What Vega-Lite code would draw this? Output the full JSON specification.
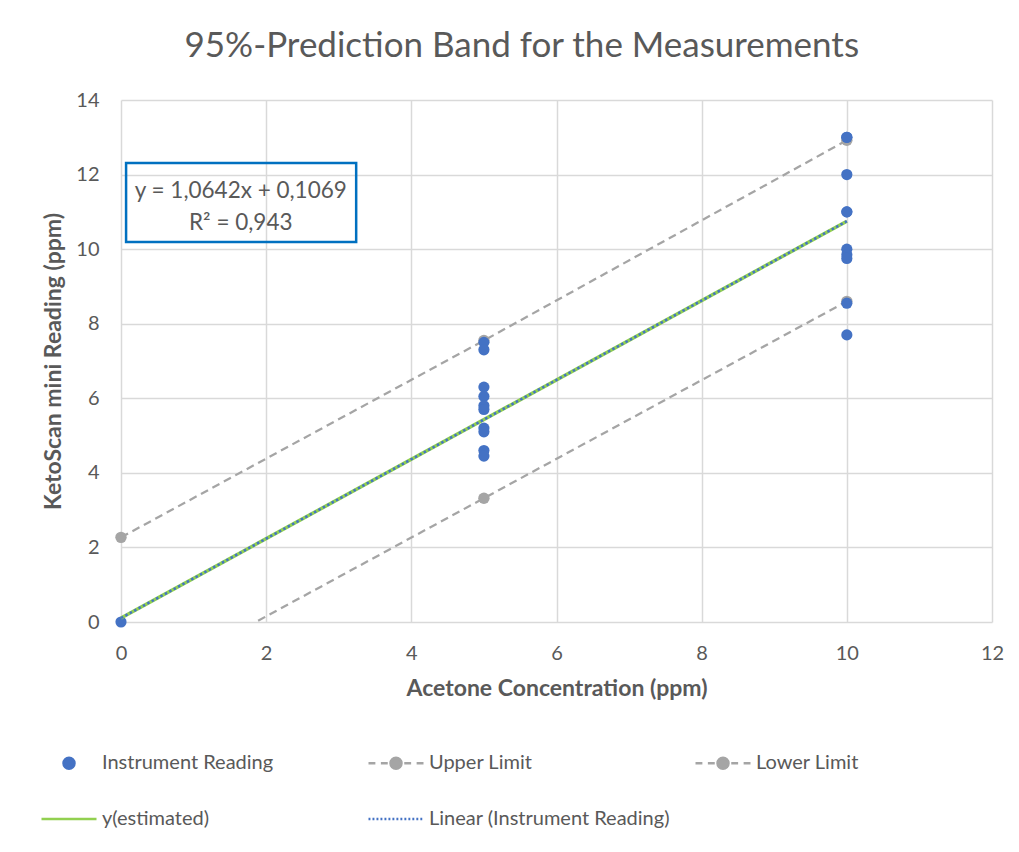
{
  "$schema": "https://vega.github.io/schema/vega-lite/v6.json",
  "width": 871,
  "height": 522,
  "autosize": {"type": "none"},
  "padding": {"left": 121, "top": 100, "right": 27, "bottom": 230},
  "background": "white",
  "title": {"text": "95%-Prediction Band for the Measurements", "font": "Lato", "fontSize": 35, "fontWeight": "normal", "color": "#595959", "anchor": "middle", "frame": "bounds", "offset": 26},
  "config": {
    "view": {"stroke": null},
    "font": "Lato",
    "axis": {"labelFont": "Lato", "labelFontSize": 20, "labelColor": "#595959", "titleFont": "Lato", "titleFontSize": 23, "titleFontWeight": "bold", "titleColor": "#595959", "grid": true, "gridColor": "#D9D9D9", "gridWidth": 1.5, "domain": false, "ticks": false, "labelFlush": false}
  },
  "datasets": {
    "readings": [
      {"x": 0, "y": 0, "series": "Instrument Reading"},
      {"x": 5, "y": 7.5, "series": "Instrument Reading"},
      {"x": 5, "y": 7.3, "series": "Instrument Reading"},
      {"x": 5, "y": 6.3, "series": "Instrument Reading"},
      {"x": 5, "y": 6.05, "series": "Instrument Reading"},
      {"x": 5, "y": 5.8, "series": "Instrument Reading"},
      {"x": 5, "y": 5.7, "series": "Instrument Reading"},
      {"x": 5, "y": 5.2, "series": "Instrument Reading"},
      {"x": 5, "y": 5.1, "series": "Instrument Reading"},
      {"x": 5, "y": 4.6, "series": "Instrument Reading"},
      {"x": 5, "y": 4.45, "series": "Instrument Reading"},
      {"x": 10, "y": 13.0, "series": "Instrument Reading"},
      {"x": 10, "y": 13.0, "series": "Instrument Reading"},
      {"x": 10, "y": 12.0, "series": "Instrument Reading"},
      {"x": 10, "y": 11.0, "series": "Instrument Reading"},
      {"x": 10, "y": 11.0, "series": "Instrument Reading"},
      {"x": 10, "y": 10.0, "series": "Instrument Reading"},
      {"x": 10, "y": 9.85, "series": "Instrument Reading"},
      {"x": 10, "y": 9.75, "series": "Instrument Reading"},
      {"x": 10, "y": 8.55, "series": "Instrument Reading"},
      {"x": 10, "y": 7.7, "series": "Instrument Reading"}
    ],
    "limits": [
      {"x": 0, "y": 2.27, "series": "Upper Limit"},
      {"x": 5, "y": 7.55, "series": "Upper Limit"},
      {"x": 10, "y": 12.92, "series": "Upper Limit"},
      {"x": 0, "y": -1.96, "series": "Lower Limit"},
      {"x": 5, "y": 3.32, "series": "Lower Limit"},
      {"x": 10, "y": 8.6, "series": "Lower Limit"}
    ],
    "fits": [
      {"x": 0, "y": 0.1069, "series": "y(estimated)"},
      {"x": 10, "y": 10.7489, "series": "y(estimated)"},
      {"x": 0, "y": 0.1069, "series": "Linear (Instrument Reading)"},
      {"x": 10, "y": 10.7489, "series": "Linear (Instrument Reading)"}
    ],
    "box": [{"x1": 0.07, "x2": 3.24, "y1": 10.19, "y2": 12.31}],
    "eq": [
      {"x": 1.65, "y": 11.55, "label": "y = 1,0642x + 0,1069"},
      {"x": 1.65, "y": 10.7, "label": "R² = 0,943"}
    ]
  },
  "layer": [
    {
      "data": {"name": "limits"},
      "mark": {"type": "line", "strokeWidth": 2.25, "strokeDash": [8, 5], "clip": true},
      "encoding": {
        "x": {"field": "x", "type": "quantitative", "scale": {"domain": [0, 12]}, "axis": {"values": [0, 2, 4, 6, 8, 10, 12], "format": "d", "title": "Acetone Concentration (ppm)", "labelPadding": 21, "titlePadding": 14}},
        "y": {"field": "y", "type": "quantitative", "scale": {"domain": [0, 14]}, "axis": {"values": [0, 2, 4, 6, 8, 10, 12, 14], "format": "d", "title": "KetoScan mini Reading (ppm)", "labelPadding": 22, "titlePadding": 10}},
        "color": {"field": "series", "type": "nominal",
          "scale": {"domain": ["Instrument Reading", "Upper Limit", "Lower Limit", "y(estimated)", "Linear (Instrument Reading)"], "range": ["#4472C4", "#A5A5A5", "#A5A5A5", "#92D050", "#4472C4"]},
          "legend": {"orient": "none", "legendX": -81, "legendY": 634, "direction": "horizontal", "columns": 3, "gridAlign": "all", "columnPadding": 20, "rowPadding": 16, "title": null, "symbolSize": 3025, "symbolStrokeWidth": 2.5, "labelFont": "Lato", "labelFontSize": 20, "labelColor": "#595959", "labelOffset": 4, "labelLimit": 500,
            "encode": {"symbols": {"update": {
              "fill": {"signal": "scale('color', datum.value)"},
              "stroke": {"signal": "scale('color', datum.value)"},
              "fillOpacity": {"value": 1},
              "shape": {"signal": "datum.value === 'Instrument Reading' ? 'M-0.2,0A0.2,0.2,0,1,1,0.2,0A0.2,0.2,0,1,1,-0.2,0Z' : (datum.value === 'y(estimated)' ? 'M-1,0L1,0' : (datum.value === 'Linear (Instrument Reading)' ? 'M-1,0L-0.93,0M-0.855,0L-0.785,0M-0.71,0L-0.64,0M-0.565,0L-0.495,0M-0.42,0L-0.35,0M-0.275,0L-0.205,0M-0.13,0L-0.06,0M0.015,0L0.085,0M0.16,0L0.23,0M0.305,0L0.375,0M0.45,0L0.52,0M0.595,0L0.665,0M0.74,0L0.81,0M0.885,0L0.955,0' : 'M-1,0L-0.75,0M-0.55,0L-0.3,0M0.3,0L0.55,0M0.75,0L1,0M-0.2,0A0.2,0.2,0,1,1,0.2,0A0.2,0.2,0,1,1,-0.2,0Z'))"}
            }}}
          }
        },
        "detail": {"field": "series"}
      }
    },
    {
      "data": {"name": "limits"},
      "transform": [{"filter": "datum.y >= 0"}],
      "mark": {"type": "circle", "size": 130, "opacity": 1},
      "encoding": {
        "x": {"field": "x", "type": "quantitative"},
        "y": {"field": "y", "type": "quantitative"},
        "color": {"field": "series", "type": "nominal"}
      }
    },
    {
      "data": {"name": "readings"},
      "mark": {"type": "circle", "size": 125, "opacity": 1},
      "encoding": {
        "x": {"field": "x", "type": "quantitative"},
        "y": {"field": "y", "type": "quantitative"},
        "color": {"field": "series", "type": "nominal"}
      }
    },
    {
      "data": {"name": "fits"},
      "transform": [{"filter": "datum.series === 'y(estimated)'"}],
      "mark": {"type": "line", "strokeWidth": 3.5},
      "encoding": {
        "x": {"field": "x", "type": "quantitative"},
        "y": {"field": "y", "type": "quantitative"},
        "color": {"field": "series", "type": "nominal"}
      }
    },
    {
      "data": {"name": "fits"},
      "transform": [{"filter": "datum.series === 'Linear (Instrument Reading)'"}],
      "mark": {"type": "line", "strokeWidth": 2.5, "strokeDash": [2.5, 2.5]},
      "encoding": {
        "x": {"field": "x", "type": "quantitative"},
        "y": {"field": "y", "type": "quantitative"},
        "color": {"field": "series", "type": "nominal"}
      }
    },
    {
      "data": {"name": "box"},
      "mark": {"type": "rect", "fill": null, "stroke": "#0070C0", "strokeWidth": 2.5},
      "encoding": {
        "x": {"field": "x1", "type": "quantitative"},
        "x2": {"field": "x2"},
        "y": {"field": "y1", "type": "quantitative"},
        "y2": {"field": "y2"}
      }
    },
    {
      "data": {"name": "eq"},
      "mark": {"type": "text", "font": "Lato", "fontSize": 22.5, "color": "#595959", "align": "center", "baseline": "middle"},
      "encoding": {
        "x": {"field": "x", "type": "quantitative"},
        "y": {"field": "y", "type": "quantitative"},
        "text": {"field": "label"}
      }
    }
  ]
}
